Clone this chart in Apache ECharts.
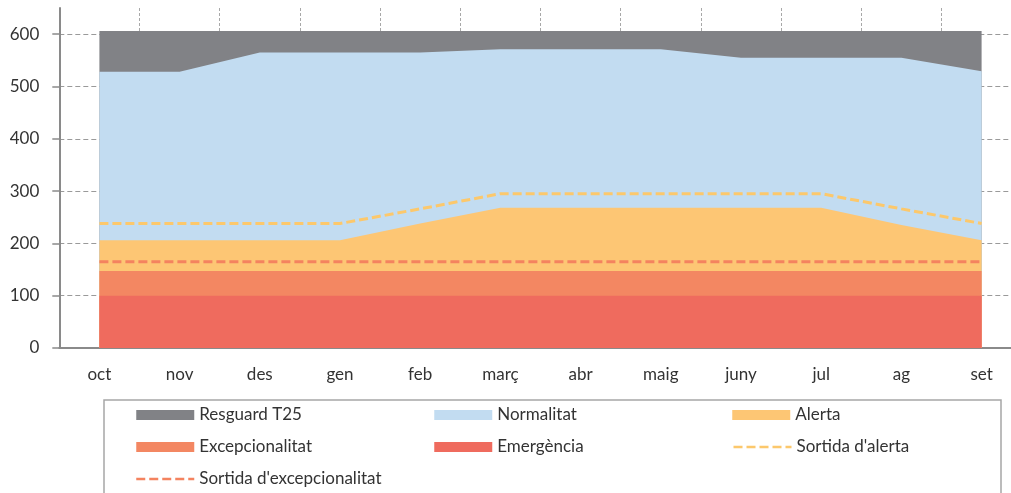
<!DOCTYPE html>
<html>
<head>
<meta charset="utf-8">
<script src="https://cdn.jsdelivr.net/npm/echarts@6/dist/echarts.min.js"></script>
<style>
  html, body { margin: 0; padding: 0; background: #ffffff; }
  #chart { width: 1011px; height: 493px; }
</style>
</head>
<body>
<div id="chart"></div>
<script>
// ---- Data ----
const months = ['oct', 'nov', 'des', 'gen', 'feb', 'març', 'abr', 'maig', 'juny', 'jul', 'ag', 'set'];
const resguardTop        = [606, 606, 606, 606, 606, 606, 606, 606, 606, 606, 606, 606];
const normalitatTop      = [528, 528, 565, 565, 565, 571, 571, 571, 555, 555, 555, 529];
const alertaTop          = [206, 206, 206, 206, 238, 268, 268, 268, 268, 268, 235, 206];
const excepcionalitatTop = [147, 147, 147, 147, 147, 147, 147, 147, 147, 147, 147, 147];
const emergenciaTop      = [100, 100, 100, 100, 100, 100, 100, 100, 100, 100, 100, 100];
const sortidaAlerta      = [238, 238, 238, 238, 266, 295, 295, 295, 295, 295, 266, 238];
const sortidaExcep       = [165, 165, 165, 165, 165, 165, 165, 165, 165, 165, 165, 165];
const yTickValues        = [0, 100, 200, 300, 400, 500, 600];

const FONT = 'Lato';
const TXT = '#333333';
const AXIS = '#8a8a8a';

function areaSeries(name, values, color) {
  return {
    name: name,
    type: 'line',
    data: values,
    symbol: 'none',
    lineStyle: { width: 0 },
    itemStyle: { color: color },
    areaStyle: { color: color, opacity: 1 },
    emphasis: { disabled: true },
    silent: true
  };
}
function dashSeries(name, values, color) {
  return {
    name: name,
    type: 'line',
    data: values,
    symbol: 'none',
    z: 5,
    lineStyle: { width: 3, color: color, type: [9, 4] },
    itemStyle: { color: color },
    emphasis: { disabled: true },
    silent: true
  };
}

const chart = echarts.init(document.getElementById('chart'), null, { renderer: 'canvas' });
chart.setOption({
  backgroundColor: '#ffffff',
  animation: false,
  textStyle: { fontFamily: FONT },
  grid: { left: 59.3, width: 962.4, top: 8, bottom: 145, containLabel: false, outerBoundsMode: 'none' },
  xAxis: {
    type: 'category',
    data: months,
    boundaryGap: true,
    axisLine: { lineStyle: { color: AXIS, width: 2 } },
    axisTick: { length: 5, lineStyle: { color: AXIS, width: 1.5 } },
    axisLabel: { margin: 18, fontSize: 17, color: TXT, fontFamily: FONT },
    splitLine: { show: true, lineStyle: { color: '#a8a8a8', width: 1, type: [3, 2] } }
  },
  yAxis: {
    type: 'value',
    min: 0,
    max: 650,
    interval: 100,
    axisLine: { show: true, lineStyle: { color: AXIS, width: 2 } },
    axisTick: { show: true, length: 7, lineStyle: { color: AXIS, width: 1.5 }, customValues: yTickValues },
    axisLabel: { margin: 20, fontSize: 17, color: TXT, fontFamily: FONT, customValues: yTickValues },
    splitLine: { show: true, lineStyle: { color: '#9a9a9a', width: 1, type: [5, 3] } }
  },
  legend: {
    left: 135,
    top: 399,
    width: 900,
    orient: 'horizontal',
    padding: 0,
    itemGap: 0,
    itemWidth: 58,
    itemHeight: 10,
    selectedMode: false,
    textStyle: { fontSize: 17, color: TXT, fontFamily: FONT, width: 235, lineHeight: 32 },
    data: [
      { name: 'Resguard T25', icon: 'rect' },
      { name: 'Normalitat', icon: 'rect' },
      { name: 'Alerta', icon: 'rect' },
      { name: 'Excepcionalitat', icon: 'rect' },
      { name: 'Emergència', icon: 'rect' },
      { name: "Sortida d'alerta", itemStyle: { color: 'rgba(0,0,0,0)', borderWidth: 0, opacity: 0 }, lineStyle: { width: 2.5 } },
      { name: "Sortida d'excepcionalitat", itemStyle: { color: 'rgba(0,0,0,0)', borderWidth: 0, opacity: 0 }, lineStyle: { width: 2.5 } }
    ]
  },
  graphic: [{
    type: 'rect',
    silent: true,
    shape: { x: 104, y: 400, width: 897, height: 140 },
    style: { fill: 'none', stroke: '#a6a6a6', lineWidth: 1.5 }
  }],
  series: [
    areaSeries('Resguard T25', resguardTop, '#818286'),
    areaSeries('Normalitat', normalitatTop, '#c2dcf1'),
    areaSeries('Alerta', alertaTop, '#fdc674'),
    areaSeries('Excepcionalitat', excepcionalitatTop, '#f38762'),
    areaSeries('Emergència', emergenciaTop, '#ef6b5e'),
    dashSeries("Sortida d'alerta", sortidaAlerta, '#fcc86c'),
    dashSeries("Sortida d'excepcionalitat", sortidaExcep, '#f4835f')
  ]
});
</script>
</body>
</html>
